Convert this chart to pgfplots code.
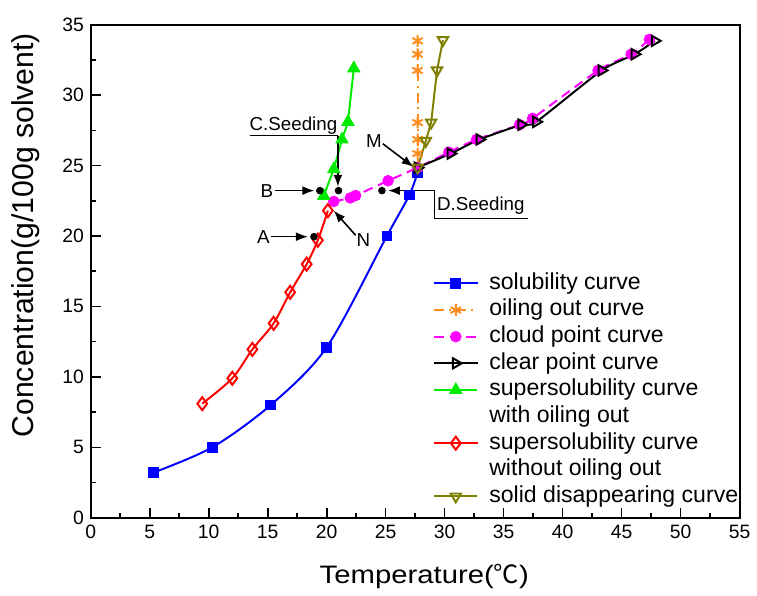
\documentclass[border=0pt]{standalone}
\usepackage{fontspec}
\setmainfont{Liberation Sans}
\newfontfamily\widefont{Liberation Sans}[FakeStretch=1.16]
\newfontfamily\cjk{Noto Sans CJK SC}
\usepackage{pgfplots}
\pgfplotsset{compat=1.18}
\usetikzlibrary{arrows.meta}

\definecolor{oilorange}{RGB}{255,140,30}
\definecolor{soldolive}{RGB}{128,128,0}
\definecolor{supgreen}{RGB}{0,235,0}
\definecolor{cloudmag}{RGB}{255,0,255}

\tikzset{annarrow/.style={-{Latex[length=6pt,width=4.5pt]}, line width=0.8pt, black},
         annline/.style={line width=0.8pt, black},
         anntext/.style={font=\fontsize{9.5}{11}\selectfont, inner sep=0pt}}

\begin{document}
\begin{tikzpicture}
\begin{axis}[
  scale only axis, width=329pt, height=250pt,
  xmin=0, xmax=55, ymin=0, ymax=35,
  xtick distance=5, ytick distance=5, minor tick num=1,
  tick align=inside, xtick pos=bottom, ytick pos=left,
  major tick length=5pt, minor tick length=2.5pt,
  every tick/.style={black, line width=0.8pt},
  axis line style={line width=1pt},
  tick label style={font=\fontsize{9.8}{11}\selectfont},
  /pgf/number format/assume math mode=true,
  xlabel={Temperature({\cjk ℃})},
  ylabel={Concentration(g/100g solvent)},
  xlabel style={font=\widefont\fontsize{12.8}{15}\selectfont,
    at={(axis description cs:0.514,-0.12)}, anchor=center},
  ylabel style={font=\fontsize{15.3}{17}\selectfont,
    at={(axis description cs:-0.1,0.573)}, anchor=center},
  legend cell align=left,
  legend style={at={(axis description cs:0.527,0.503)}, anchor=north west,
    draw=none, fill=none, inner sep=0pt, row sep=0pt, column sep=3.5pt,
    font=\fontsize{11.7}{13}\selectfont,
    nodes={text height=8.4pt, text depth=2.5pt, inner ysep=1.3pt, inner xsep=2pt}},
  legend image code/.code={\draw[mark repeat=2, mark phase=2, #1]
    plot coordinates {(0pt,0pt) (11pt,0pt) (22pt,0pt)};},
]

% solubility curve
\addplot[blue, line width=1pt, smooth, mark=square*, mark size=2.2pt,
  mark options={solid}] coordinates {
  (5.3,3.2) (10.3,5.0) (15.25,8.0) (20.0,12.1) (25.1,20.0) (27.0,22.9) (27.7,24.5)};
\addlegendentry{solubility curve}

% oiling out curve
\addplot[oilorange, line width=1pt, dash pattern=on 5pt off 2.5pt on 1pt off 2.5pt,
  mark=asterisk, mark size=3pt, mark options={solid}] coordinates {
  (27.7,24.85) (27.7,25.85) (27.7,26.85) (27.7,28.05) (27.7,31.75) (27.7,32.9) (27.7,33.85)};
\addlegendentry{oiling out curve}

% cloud point curve
\addplot[cloudmag, line width=1pt, dash pattern=on 5pt off 3pt, smooth, tension=0.4,
  mark=*, mark size=2.4pt, mark options={solid}] coordinates {
  (20.6,22.45) (22.0,22.7) (22.45,22.87) (25.2,23.92) (27.7,24.85)
  (30.35,25.95) (32.7,26.85) (36.35,27.9) (37.45,28.35) (43.0,31.75)
  (45.8,32.9) (47.35,33.95)};
\addlegendentry{cloud point curve}

% clear point curve
\addplot[black, line width=1pt, smooth, tension=0.4, mark=triangle, mark size=3pt,
  mark options={solid, fill=white, rotate=-90}] coordinates {
  (27.7,24.85) (30.5,25.85) (32.95,26.85) (36.5,27.9) (37.75,28.1)
  (43.3,31.75) (46.1,32.9) (47.8,33.85)};
\addlegendentry{clear point curve}

% supersolubility curve with oiling out
\addplot[supgreen, line width=1pt, mark=triangle*, mark size=3pt,
  mark options={solid}] coordinates {
  (19.75,22.85) (20.6,24.75) (21.3,26.85) (21.8,28.1) (22.3,31.9)};
\addlegendentry{supersolubility curve}
\addlegendimage{empty legend}
\addlegendentry{with oiling out}

% supersolubility curve without oiling out
\addplot[red, line width=1pt, smooth, mark=diamond, mark size=3.3pt,
  mark options={solid, fill=white}] coordinates {
  (9.45,8.1) (12.0,9.9) (13.7,11.95) (15.5,13.8) (16.9,16.0) (18.3,18.0)
  (19.25,19.7) (20.1,21.8)};
\addlegendentry{supersolubility curve}
\addlegendimage{empty legend}
\addlegendentry{without oiling out}

% solid disappearing curve
\addplot[soldolive, line width=1pt, mark=triangle, mark size=3pt,
  mark options={solid, fill=white, rotate=180}] coordinates {
  (27.7,24.85) (28.4,26.75) (28.85,28.05) (29.35,31.75) (29.85,33.9)};
\addlegendentry{solid disappearing curve}

% operating points A, B, C and D
\addplot[only marks, black, mark=*, mark size=1.7pt, forget plot] coordinates {
  (18.92,19.95) (19.42,23.22) (21.0,23.22) (24.68,23.22)};

% annotations
\node[anntext] at (axis cs:14.63,19.95) {A};
\draw[annarrow] (axis cs:15.3,19.95) -- (axis cs:18.4,19.95);

\node[anntext] at (axis cs:14.92,23.22) {B};
\draw[annarrow] (axis cs:15.65,23.22) -- (axis cs:18.95,23.22);

\node[anntext] at (axis cs:23.1,19.72) {N};
\draw[annarrow] (axis cs:22.45,20.05) -- (axis cs:20.6,21.8);

\node[anntext] at (axis cs:24.0,26.72) {M};
\draw[annarrow] (axis cs:24.75,26.55) -- (axis cs:27.35,24.9);

\node[anntext] at (axis cs:17.18,27.8) {C.Seeding};
\draw[annline] (axis cs:13.54,27.13) -- (axis cs:20.95,27.13);
\draw[annarrow] (axis cs:20.95,27.13) -- (axis cs:20.95,23.5);

\node[anntext] at (axis cs:33.06,22.12) {D.Seeding};
\draw[annline] (axis cs:37.03,21.23) -- (axis cs:29.14,21.23) -- (axis cs:29.14,23.22);
\draw[annarrow] (axis cs:29.14,23.22) -- (axis cs:25.2,23.22);

\coordinate (sw) at (rel axis cs:0,0);
\coordinate (ne) at (rel axis cs:1,1);
\end{axis}
\path ([shift={(-46pt,-38pt)}]sw) rectangle ([shift={(3.5pt,12.5pt)}]ne);
\end{tikzpicture}
\end{document}
